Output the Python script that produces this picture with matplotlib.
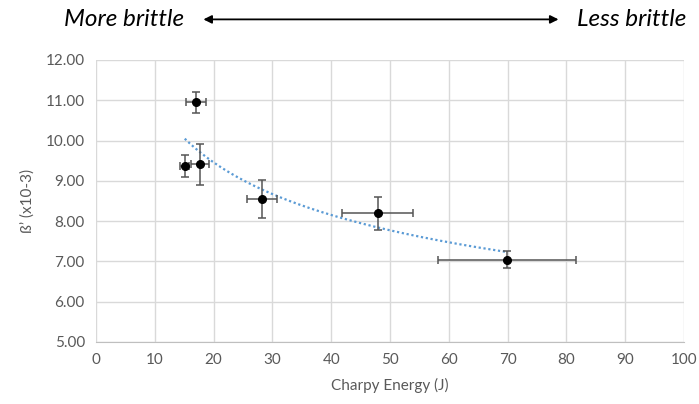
import numpy as np
import matplotlib
matplotlib.use("Agg")
import matplotlib.pyplot as plt

plt.rcParams['font.family'] = ['Lato', 'DejaVu Sans']

# data
charpy = [15.1, 17.0, 17.7, 28.2, 47.9, 69.9]
beta = [9.37, 10.95, 9.41, 8.56, 8.19, 7.04]
charpy_err = [0.8, 1.7, 1.6, 2.6, 6.1, 11.7]
beta_err = [0.27, 0.26, 0.51, 0.47, 0.40, 0.21]

x_ticks = list(range(0, 101, 10))
y_ticks = [5, 6, 7, 8, 9, 10, 11, 12]

fig = plt.figure(figsize=(6.99, 4.04), dpi=100)
ax = fig.add_axes([0.1373, 0.1535, 0.8412, 0.698])

# power trendline (Excel style: fit in log-log space)
b, lna = np.polyfit(np.log(charpy), np.log(beta), 1)
xf = np.linspace(min(charpy), max(charpy), 200)
ax.plot(xf, np.exp(lna) * xf ** b, color='#5b9bd5', lw=1.6, ls=(0, (1, 1.2)), zorder=2)

ax.errorbar(charpy, beta, xerr=charpy_err, yerr=beta_err, fmt='o', color='black',
            ms=5.5, ecolor='#555555', elinewidth=1.1, capsize=3, capthick=1.1, zorder=3)

ax.set_xlim(0, 100)
ax.set_ylim(5, 12)
ax.set_xticks(x_ticks)
ax.set_yticks(y_ticks)
ax.set_yticklabels([f"{v:.2f}" for v in y_ticks])
ax.grid(True, color='#d9d9d9', lw=1)
ax.set_axisbelow(True)
for s in ['top', 'right', 'left']:
    ax.spines[s].set_visible(False)
ax.spines['bottom'].set_color('#bfbfbf')
ax.tick_params(length=0, labelsize=11, colors='#595959', pad=8)

ax.set_xlabel('Charpy Energy (J)', fontsize=11, color='#595959', labelpad=8)
ax.set_ylabel('ß’ (x10-3)', fontsize=11, color='#595959', labelpad=8)

fig.text(0.092, 0.952, 'More brittle', fontsize=17.5, style='italic', ha='left', va='center')
fig.text(0.982, 0.952, 'Less brittle', fontsize=17.5, style='italic', ha='right', va='center')
fig.add_artist(matplotlib.patches.FancyArrowPatch((0.287, 0.952), (0.803, 0.952),
               transform=fig.transFigure, arrowstyle='<|-|>', mutation_scale=12,
               color='black', lw=1.3))

fig.savefig('out.png', dpi=100)
